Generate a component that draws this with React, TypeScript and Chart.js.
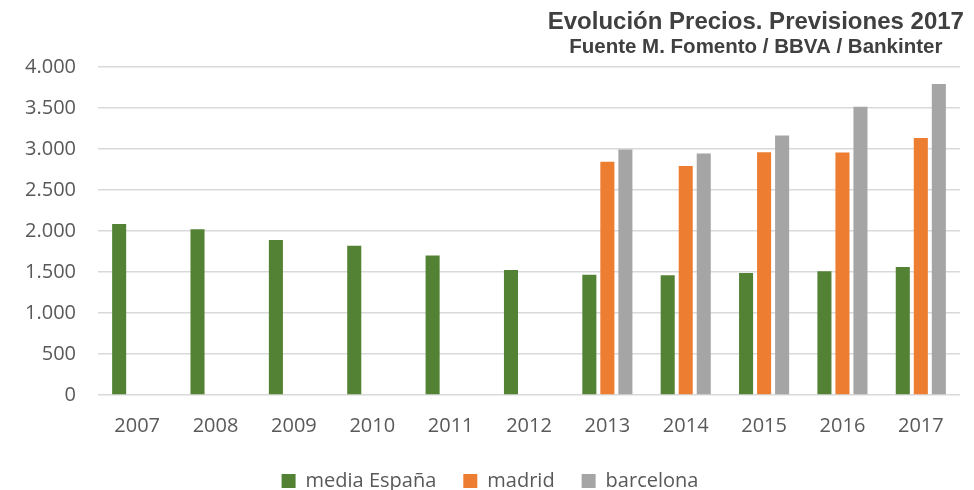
import React, { useEffect, useRef } from "react";
import { Chart, registerables } from "chart.js";

Chart.register(...registerables);

const years = ["2007", "2008", "2009", "2010", "2011", "2012", "2013", "2014", "2015", "2016", "2017"];
const mediaEspana = [2085, 2020, 1890, 1820, 1700, 1525, 1465, 1460, 1488, 1508, 1562];
const madrid = [null, null, null, null, null, null, 2846, 2794, 2960, 2956, 3135];
const barcelona = [null, null, null, null, null, null, 2995, 2944, 3164, 3514, 3794];
const titleText = "Evolución Precios. Previsiones 2017";
const subtitleText = "Fuente M. Fomento / BBVA / Bankinter";

const fmt = (v: number) => String(v).replace(/\B(?=(\d{3})+(?!\d))/g, ".");

const titlePlugin = {
  id: "customTitle",
  afterDraw(chart: any) {
    const ctx = chart.ctx;
    ctx.save();
    ctx.fillStyle = "#404040";
    ctx.textAlign = "center";
    ctx.textBaseline = "alphabetic";
    const cx = chart.width * 0.776;
    ctx.font = "bold 24px 'Liberation Sans', Arial, sans-serif";
    ctx.fillText(titleText, cx, 29);
    ctx.font = "bold 20.5px 'Liberation Sans', Arial, sans-serif";
    ctx.fillText(subtitleText, cx, 53);
    ctx.restore();
  },
};

export default function App() {
  const ref = useRef<HTMLCanvasElement | null>(null);
  useEffect(() => {
    document.body.style.margin = "0";
    const font = "'Open Sans', sans-serif";
    const chart = new Chart(ref.current!, {
      type: "bar",
      data: {
        labels: years,
        datasets: [
          { label: "media España", data: mediaEspana, backgroundColor: "#548235" },
          { label: "madrid", data: madrid as any, backgroundColor: "#ED7D31" },
          { label: "barcelona", data: barcelona as any, backgroundColor: "#A5A5A5" },
        ],
      },
      options: {
        animation: false,
        responsive: false,
        maintainAspectRatio: false,
        layout: { padding: { top: 67, left: 20, right: 14, bottom: -11 } },
        datasets: { bar: { categoryPercentage: 0.69, barPercentage: 0.78 } },
        scales: {
          x: {
            afterFit: (s: any) => {
              s.height = s.height - 13;
            },
            grid: { display: false, drawTicks: false },
            border: { display: false },
            ticks: { color: "#595959", font: { family: font, size: 20 }, padding: 19 },
          },
          y: {
            min: 0,
            max: 4000,
            afterFit: (s: any) => {
              s.width = 78;
            },
            grid: { color: "#d9d9d9", lineWidth: 1.5, drawTicks: false },
            border: { display: false },
            ticks: {
              stepSize: 500,
              color: "#595959",
              font: { family: font, size: 20 },
              padding: 22,
              callback: (v: any) => fmt(Number(v)),
            },
          },
        },
        plugins: {
          legend: {
            position: "bottom",
            labels: {
              color: "#595959",
              font: { family: font, size: 20 },
              boxWidth: 14,
              boxHeight: 14,
              padding: 27,
            },
          },
          tooltip: { enabled: false },
          title: { display: false },
        },
      },
      plugins: [titlePlugin],
    });
    return () => chart.destroy();
  }, []);
  return (
    <div style={{ width: 974, height: 490 }}>
      <canvas ref={ref} width={974} height={490} style={{ display: "block" }} />
    </div>
  );
}
